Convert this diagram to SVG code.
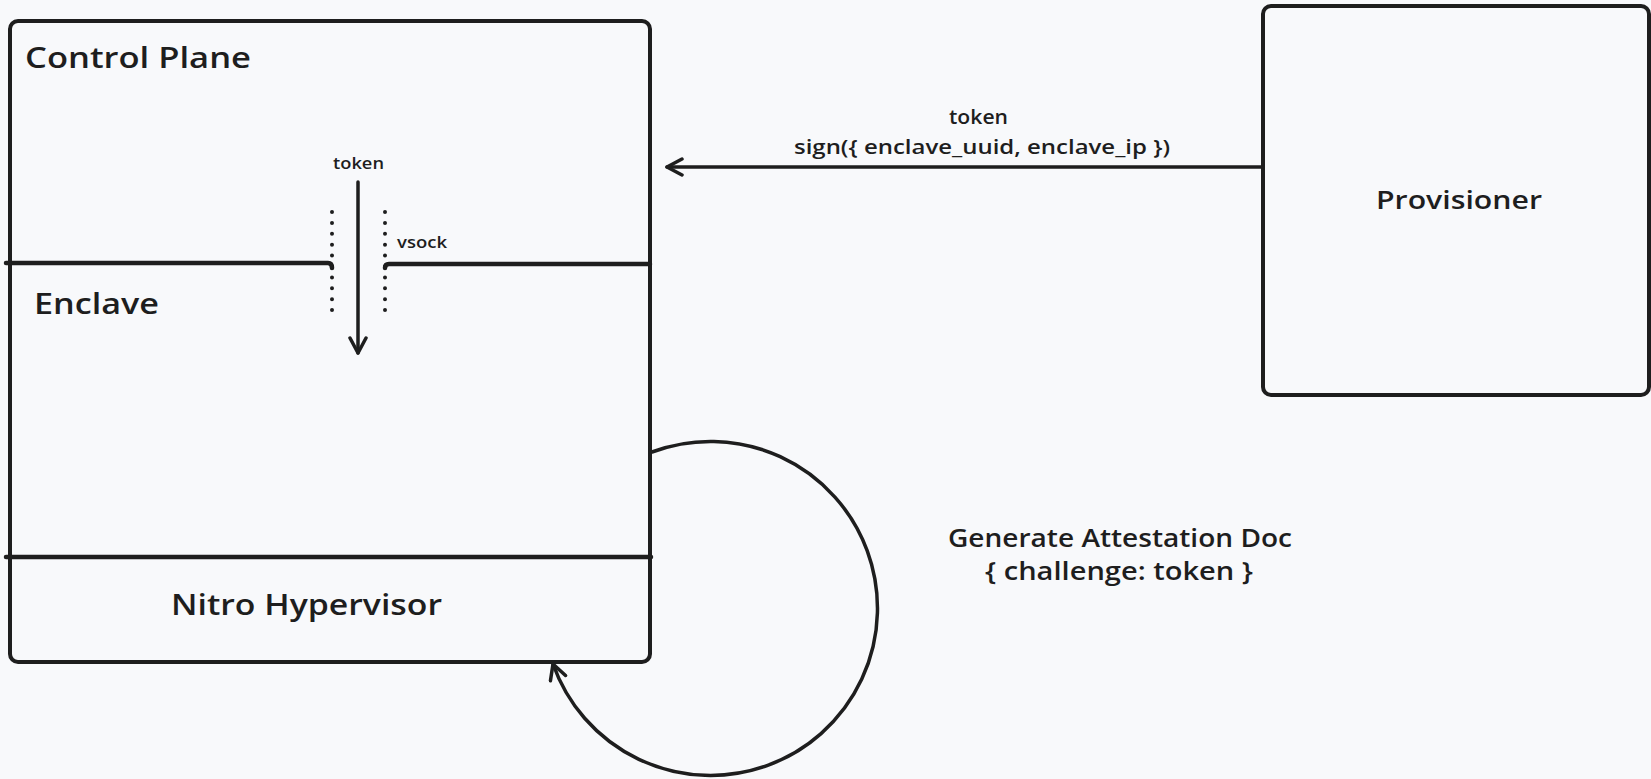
<svg xmlns="http://www.w3.org/2000/svg" width="1651" height="779" viewBox="0 0 1651 779">
  <defs>
    <style>
      .box { fill: none; stroke: #1e1e1e; stroke-width: 4; stroke-linejoin: round; }
      .divider { fill: none; stroke: #1e1e1e; stroke-width: 4.5; stroke-linecap: round; }
      .wire { fill: none; stroke: #1e1e1e; stroke-width: 3.5; stroke-linecap: round; }
      .dots { fill: none; stroke: #1e1e1e; stroke-width: 4; stroke-linecap: round; stroke-dasharray: 0 10.9; }
      .title { font-family: "Open Sans", "Noto Sans", sans-serif; font-weight: 600; fill: #1e1e1e; }
      .label { font-family: "Open Sans", "Noto Sans", sans-serif; font-weight: 600; fill: #1e1e1e; }
    </style>
    <marker id="head" viewBox="0 0 20 20" refX="17" refY="10" markerWidth="20" markerHeight="20" markerUnits="userSpaceOnUse" orient="auto">
      <path d="M 2 2 L 17 10 L 2 18" fill="none" stroke="#1e1e1e" stroke-width="3.5" stroke-linecap="round" stroke-linejoin="round"/>
    </marker>
  </defs>

  <rect width="1651" height="779" fill="#f8f9fb"/>

  <!-- host: control plane / enclave / hypervisor stack -->
  <g id="host">
    <rect class="box" x="10" y="21" width="640" height="641" rx="8"/>
    <path class="divider" d="M 6 263 L 328 263 Q 332 263 332 268"/>
    <path class="divider" d="M 385 268 Q 385 264 389 264 L 650 264"/>
    <line class="divider" x1="6" y1="557" x2="651" y2="557"/>
    <text class="title" x="25" y="68" font-size="28" textLength="226" lengthAdjust="spacingAndGlyphs">Control Plane</text>
    <text class="title" x="34" y="314" font-size="28" textLength="125" lengthAdjust="spacingAndGlyphs">Enclave</text>
    <text class="title" x="171" y="615" font-size="28" textLength="271" lengthAdjust="spacingAndGlyphs">Nitro Hypervisor</text>
  </g>

  <!-- vsock channel between control plane and enclave -->
  <g id="vsock">
    <line class="dots" x1="332" y1="212" x2="332" y2="311"/>
    <line class="dots" x1="385" y1="212" x2="385" y2="311"/>
    <text class="label" x="397" y="248" font-size="17" textLength="50" lengthAdjust="spacingAndGlyphs">vsock</text>
  </g>

  <!-- provisioner service -->
  <g id="provisioner">
    <rect class="box" x="1263" y="6" width="386" height="389" rx="8"/>
    <text class="title" x="1376" y="209" font-size="26" textLength="166" lengthAdjust="spacingAndGlyphs">Provisioner</text>
  </g>

  <!-- connectors -->
  <g id="connectors">
    <line class="wire" x1="1262" y1="167" x2="667" y2="167" marker-end="url(#head)"/>
    <line class="wire" x1="358" y1="182" x2="358" y2="353" marker-end="url(#head)"/>
    <path class="wire" d="M 652 452 A 167 167 0 1 1 553 664" marker-end="url(#head)"/>

    <text class="label" x="949" y="124" font-size="20" textLength="59" lengthAdjust="spacingAndGlyphs">token</text>
    <text class="label" x="794" y="154" font-size="20" textLength="376" lengthAdjust="spacingAndGlyphs">sign({  enclave_uuid, enclave_ip })</text>
    <text class="label" x="333" y="169" font-size="17" textLength="51" lengthAdjust="spacingAndGlyphs">token</text>
    <text class="title" x="948" y="547" font-size="25" textLength="344" lengthAdjust="spacingAndGlyphs">Generate Attestation Doc</text>
    <text class="title" x="985" y="580" font-size="25" textLength="268" lengthAdjust="spacingAndGlyphs">{ challenge: token }</text>
  </g>
</svg>
